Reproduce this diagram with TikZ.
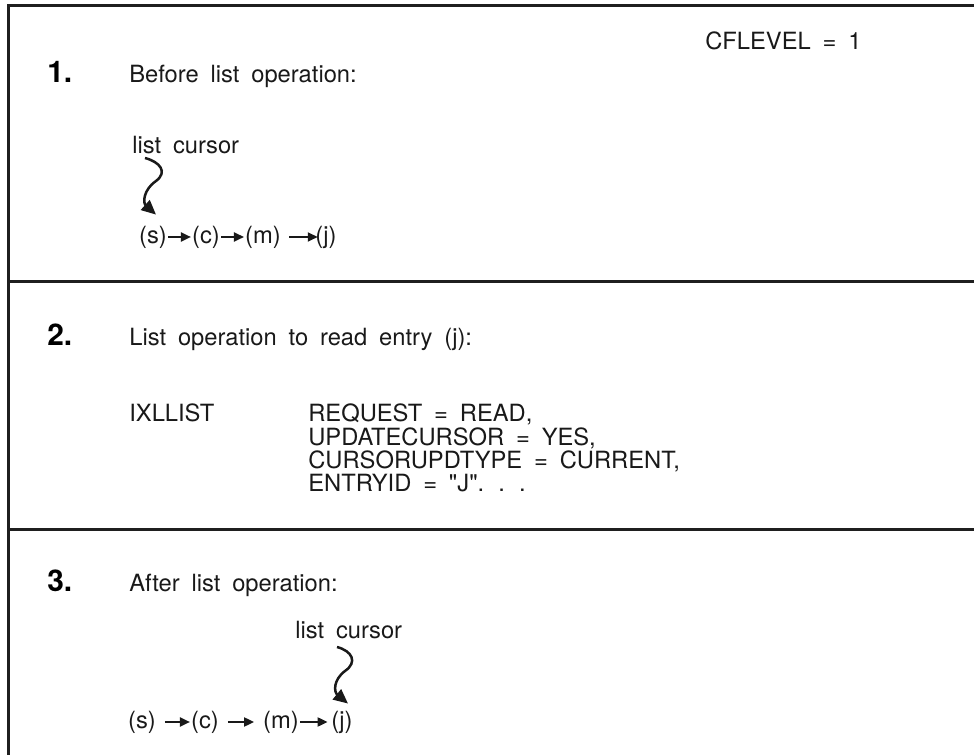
\documentclass[tikz,border=0pt]{standalone}
\usepackage{fontspec}
\setmainfont{TeX Gyre Heros}[Ligatures=TeXOff]
\usetikzlibrary{arrows.meta,positioning}
\newcommand{\widesp}{\spaceskip=0.5em plus 0.1em\relax}
\tikzset{
  sepline/.style={line width=0.6mm, draw=black!88},
  txt/.style={anchor=base west, inner sep=0pt, text=black!90, font=\fontsize{13.5}{16}\selectfont\widesp},
  num/.style={anchor=base west, inner sep=0pt, font=\fontsize{17}{20}\selectfont\bfseries},
  elt/.style={inner sep=0.5pt, text=black!90, font=\fontsize{13.5}{16}\selectfont},
  lnk/.style={-{Triangle[length=2mm,width=1.8mm]}, line width=0.4mm, draw=black!90},
  curl/.style={-{Triangle[length=2.9mm,width=2.6mm]}, line width=0.5mm, draw=black!90},
}
\begin{document}
\begin{tikzpicture}[x=0.2mm, y=-0.2mm]
    \useasboundingbox (0,0) rectangle (974,755);
    \draw[sepline] (974,6) -- (8,6) -- (8,755);
    \draw[sepline] (8,282) -- (974,282);
    \draw[sepline] (8,530) -- (974,530);
    % before
    \node[num] (n1) at (47,83) {1.};
    \node[txt] (t1) at (129,83) {Before list operation:};
    \node[txt] (lvl) at (705,50) {CFLEVEL = 1};
    \node[txt] (cur1) at (132,154) {list cursor};
    \node[elt] (s1) at (153,237) {(s)};
    \node[elt] (c1) at (206,237) {(c)};
    \node[elt] (m1) at (263,237) {(m)};
    \node[elt] (j1) at (326,237) {(j)};
    \foreach \a/\b/\p/\q in {s1/c1/0/0,c1/m1/0/0,m1/j1/4/-2} \draw[lnk, shorten <={\p pt}, shorten >={\q pt}] (\a) -- (\b);
    \coordinate (k1) at (145,158);
    \draw[curl] (k1) .. controls (160,162) and (168,172) .. (156,181) .. controls (143,190) and (143,203) .. ([xshift=0.6mm,yshift=2mm]s1.north);
    % request
    \node[num] (n2) at (47,346) {2.};
    \node[txt] (t2) at (129,346) {List operation to read entry (j):};
    \node[txt] (mac) at (129,422) {IXLLIST};
    \foreach \t [count=\i from 0] in {{REQUEST = READ,},{UPDATECURSOR = YES,},{CURSORUPDTYPE = CURRENT,},{ENTRYID = "J". . .}}
      \node[txt] (arg\i) at (308,{422+23.3*\i}) {\t};
    % after
    \node[num] (n3) at (47,592) {3.};
    \node[txt] (t3) at (129,592) {After list operation:};
    \node[txt] (cur3) at (295,638) {list cursor};
    \node[elt] (s3) at (142,722) {(s)};
    \node[elt] (c3) at (205,722) {(c)};
    \node[elt] (m3) at (281,722) {(m)};
    \node[elt] (j3) at (342,722) {(j)};
    \foreach \a/\b/\p/\q in {s3/c3/4.5/0,c3/m3/4.5/4.5,m3/j3/0/1.5} \draw[lnk, shorten <={\p pt}, shorten >={\q pt}] (\a) -- (\b);
    \coordinate (k3) at (337,647);
    \draw[curl] (k3) .. controls (352,651) and (358,662) .. (345,671) .. controls (333,680) and (334,692) .. ([xshift=1.2mm,yshift=1.2mm]j3.north);
\end{tikzpicture}
\end{document}
